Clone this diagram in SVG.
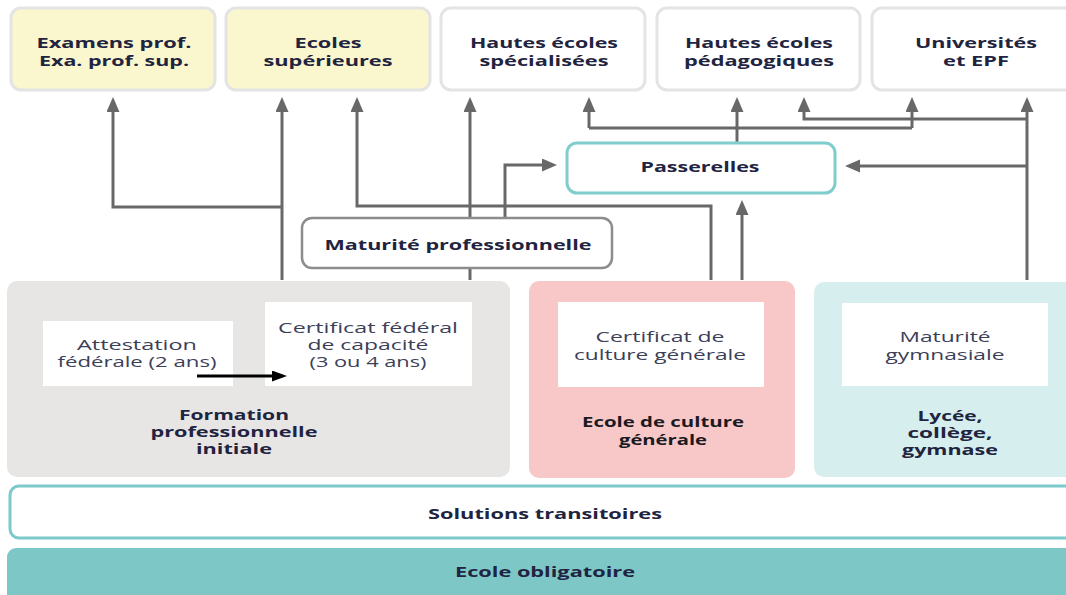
<svg xmlns="http://www.w3.org/2000/svg" width="1066" height="595" viewBox="0 0 1066 595">
<defs>
<style>
.b{font-family:"Open Sans","Liberation Sans",sans-serif;font-weight:700;font-size:14px;fill:#1f2440;text-anchor:middle}
.r{font-family:"Open Sans","Liberation Sans",sans-serif;font-weight:400;font-size:14px;fill:#3b4058;text-anchor:middle}
.top{stroke:#e4e4e4;stroke-width:3}
.yel{fill:#faf6cd}
.wht{fill:#ffffff}
.con{fill:none;stroke:#686868;stroke-width:3}
.inner{fill:#ffffff}
</style>
<marker id="ah" markerUnits="userSpaceOnUse" markerWidth="16" markerHeight="14" refX="0" refY="6.5" orient="auto">
<path d="M0,0 L15,6.5 L0,13 z" fill="#686868"/>
</marker>
<marker id="ahb" markerUnits="userSpaceOnUse" markerWidth="16" markerHeight="12" refX="0" refY="5.5" orient="auto">
<path d="M0,0 L15,5.5 L0,11 z" fill="#000000"/>
</marker>
</defs>
<rect width="1066" height="595" fill="#ffffff"/>

<g id="connectors">
<path class="con" d="M282,280 V112" marker-end="url(#ah)"/>
<path class="con" d="M282,207 H113 V112" marker-end="url(#ah)"/>
<path class="con" d="M470,280 V112" marker-end="url(#ah)"/>
<path class="con" d="M505,218 V165 H542" marker-end="url(#ah)"/>
<path class="con" d="M711,280 V206 H357 V112" marker-end="url(#ah)"/>
<path class="con" d="M742,280 V215" marker-end="url(#ah)"/>
<path class="con" d="M737,143 V112" marker-end="url(#ah)"/>
<path class="con" d="M589,128 H912"/>
<path class="con" d="M589,128 V112" marker-end="url(#ah)"/>
<path class="con" d="M912,128 V112" marker-end="url(#ah)"/>
<path class="con" d="M1027,280 V112" marker-end="url(#ah)"/>
<path class="con" d="M1027,119 H804 V112" marker-end="url(#ah)"/>
<path class="con" d="M1027,166 H860" marker-end="url(#ah)"/>
</g>

<g id="examens">
<rect class="top yel" x="11" y="8" width="204" height="82" rx="10"/>
<text class="b" x="114" y="48" textLength="155" lengthAdjust="spacingAndGlyphs">Examens prof.</text>
<text class="b" x="114" y="66" textLength="150" lengthAdjust="spacingAndGlyphs">Exa. prof. sup.</text>
</g>
<g id="ecoles-sup">
<rect class="top yel" x="226" y="8" width="204" height="82" rx="10"/>
<text class="b" x="328" y="48" textLength="67" lengthAdjust="spacingAndGlyphs">Ecoles</text>
<text class="b" x="328" y="66" textLength="129" lengthAdjust="spacingAndGlyphs">supérieures</text>
</g>
<g id="hes">
<rect class="top wht" x="441" y="8" width="204" height="82" rx="10"/>
<text class="b" x="544" y="48" textLength="148" lengthAdjust="spacingAndGlyphs">Hautes écoles</text>
<text class="b" x="544" y="66" textLength="129" lengthAdjust="spacingAndGlyphs">spécialisées</text>
</g>
<g id="hep">
<rect class="top wht" x="657" y="8" width="203" height="82" rx="10"/>
<text class="b" x="759" y="48" textLength="148" lengthAdjust="spacingAndGlyphs">Hautes écoles</text>
<text class="b" x="759" y="66" textLength="150" lengthAdjust="spacingAndGlyphs">pédagogiques</text>
</g>
<g id="universites">
<rect class="top wht" x="872" y="8" width="204" height="82" rx="10"/>
<text class="b" x="976" y="48" textLength="122" lengthAdjust="spacingAndGlyphs">Universités</text>
<text class="b" x="976" y="66" textLength="66" lengthAdjust="spacingAndGlyphs">et EPF</text>
</g>

<g id="passerelles">
<rect x="567" y="143" width="268" height="50" rx="10" fill="#ffffff" stroke="#80cdcd" stroke-width="3"/>
<text class="b" x="700" y="172" textLength="119" lengthAdjust="spacingAndGlyphs">Passerelles</text>
</g>
<g id="maturite-pro">
<rect x="302" y="218" width="310" height="50" rx="10" fill="#ffffff" stroke="#8c8c8c" stroke-width="2.5"/>
<text class="b" x="458" y="250" textLength="267" lengthAdjust="spacingAndGlyphs">Maturité professionnelle</text>
</g>

<g id="formation">
<rect x="7" y="281" width="503" height="196" rx="10" fill="#e7e6e5"/>
<g id="attestation">
<rect class="inner" x="43" y="321" width="190" height="65"/>
<text class="r" x="137" y="350" textLength="120" lengthAdjust="spacingAndGlyphs">Attestation</text>
<text class="r" x="137" y="367" textLength="159" lengthAdjust="spacingAndGlyphs">fédérale (2 ans)</text>
</g>
<g id="cfc">
<rect class="inner" x="265" y="302" width="207" height="84"/>
<text class="r" x="368" y="333" textLength="180" lengthAdjust="spacingAndGlyphs">Certificat fédéral</text>
<text class="r" x="368" y="350" textLength="121" lengthAdjust="spacingAndGlyphs">de capacité</text>
<text class="r" x="368" y="367" textLength="117" lengthAdjust="spacingAndGlyphs">(3 ou 4 ans)</text>
</g>
<path d="M197,376 H272" stroke="#000000" stroke-width="3" fill="none" marker-end="url(#ahb)"/>
<text class="b" x="234" y="420" textLength="110" lengthAdjust="spacingAndGlyphs">Formation</text>
<text class="b" x="234" y="437" textLength="167" lengthAdjust="spacingAndGlyphs">professionnelle</text>
<text class="b" x="234" y="454" textLength="76" lengthAdjust="spacingAndGlyphs">initiale</text>
</g>

<g id="ecg">
<rect x="529" y="281" width="266" height="197" rx="10" fill="#f8c8c8"/>
<rect class="inner" x="558" y="302" width="206" height="85"/>
<text class="r" x="660" y="342" textLength="129" lengthAdjust="spacingAndGlyphs">Certificat de</text>
<text class="r" x="660" y="360" textLength="172" lengthAdjust="spacingAndGlyphs">culture générale</text>
<text class="b" x="663" y="427" textLength="162" lengthAdjust="spacingAndGlyphs" style="fill:#1a1a22">Ecole de culture</text>
<text class="b" x="663" y="445" textLength="88" lengthAdjust="spacingAndGlyphs" style="fill:#1a1a22">générale</text>
</g>

<g id="gymnase">
<rect x="814" y="282" width="266" height="195" rx="10" fill="#d6eeed"/>
<rect class="inner" x="842" y="303" width="206" height="83"/>
<text class="r" x="945" y="342" textLength="91" lengthAdjust="spacingAndGlyphs">Maturité</text>
<text class="r" x="945" y="360" textLength="119" lengthAdjust="spacingAndGlyphs">gymnasiale</text>
<text class="b" x="950" y="421" textLength="65" lengthAdjust="spacingAndGlyphs">Lycée,</text>
<text class="b" x="950" y="438" textLength="85" lengthAdjust="spacingAndGlyphs">collège,</text>
<text class="b" x="950" y="455" textLength="96" lengthAdjust="spacingAndGlyphs">gymnase</text>
</g>

<g id="solutions">
<rect x="10" y="486" width="1070" height="52" rx="9" fill="#ffffff" stroke="#7dcaca" stroke-width="3"/>
<text class="b" x="545" y="519" textLength="234" lengthAdjust="spacingAndGlyphs">Solutions transitoires</text>
</g>
<g id="obligatoire">
<rect x="7" y="548" width="1073" height="55" rx="9" fill="#7ec7c7"/>
<text class="b" x="545" y="577" textLength="180" lengthAdjust="spacingAndGlyphs">Ecole obligatoire</text>
</g>
</svg>
